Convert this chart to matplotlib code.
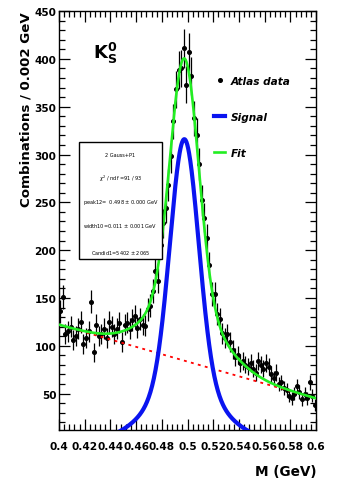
import matplotlib
matplotlib.use("Agg")
import matplotlib.pyplot as plt
from matplotlib.ticker import MultipleLocator, FuncFormatter
from matplotlib.lines import Line2D
from matplotlib.patches import Rectangle
import numpy as np

# histogram: 100 bins of 0.002 GeV between 0.4 and 0.6
bin_lo: float = 0.4
bin_width: float = 0.002
counts: list[int] = [
    136, 151, 112, 115, 120, 106, 110, 118, 125, 102,
    108, 115, 146, 93, 122, 110, 112, 118, 108, 125,
    120, 112, 118, 124, 104, 122, 124, 118, 127, 131,
    119, 128, 122, 121, 138, 142, 157, 178, 168, 205,
    228, 244, 268, 298, 335, 368, 388, 390, 411, 373,
    407, 382, 338, 320, 290, 252, 234, 213, 184, 154,
    154, 133, 128, 113, 108, 112, 104, 96, 88, 90,
    82, 84, 80, 78, 82, 76, 72, 84, 80, 76,
    82, 78, 70, 66, 72, 60, 62, 56, 54, 48,
    45, 50, 58, 52, 44, 50, 45, 62, 48, 38,
]

# fit parameters: 2 Gauss + P1
mass: float = 0.4975
amp_narrow: float = 256.0
sigma_narrow: float = 0.011
amp_wide: float = 60.0
sigma_wide: float = 0.027
bg_at_lo: float = 122.0
bg_slope: float = -385.0

stats_lines: list[str] = [
    "2 Gauss+P1",
    r"$\chi^2$ / ndf =91 / 93",
    "peak12=  0.498 $\\pm$ 0.000 GeV",
    "width10=0.011 $\\pm$ 0.001 GeV",
    "Candid1=5402 $\\pm$ 2065",
]


def background(x: np.ndarray) -> np.ndarray:
    return bg_at_lo + bg_slope * (x - bin_lo)


def signal(x: np.ndarray) -> np.ndarray:
    narrow = amp_narrow * np.exp(-0.5 * ((x - mass) / sigma_narrow) ** 2)
    wide = amp_wide * np.exp(-0.5 * ((x - mass) / sigma_wide) ** 2)
    return narrow + wide


def main() -> None:
    y = np.array(counts, dtype=float)
    x = bin_lo + bin_width * (np.arange(len(y)) + 0.5)
    xf = np.linspace(0.4, 0.6, 600)

    fig = plt.figure(figsize=(3.37, 4.81), dpi=100)
    ax = fig.add_axes([0.175, 0.104, 0.763, 0.871])

    ax.errorbar(x, y, yerr=np.sqrt(y), xerr=bin_width / 2, fmt="o", color="black",
                ms=2.6, elinewidth=0.9, capsize=0, zorder=2)
    ax.plot(xf, background(xf), color="red", lw=1.3, ls=(0, (1.6, 2.4)), zorder=3)
    ax.plot(xf, signal(xf), color="#0a14f0", lw=3.0, zorder=3)
    ax.plot(xf, signal(xf) + background(xf), color="#22ee22", lw=1.9, zorder=4)

    ax.set_xlim(0.4, 0.6)
    ax.set_ylim(12, 450)
    ax.xaxis.set_major_locator(MultipleLocator(0.02))
    ax.xaxis.set_minor_locator(MultipleLocator(0.004))
    ax.yaxis.set_major_locator(MultipleLocator(50))
    ax.yaxis.set_minor_locator(MultipleLocator(10))
    ax.xaxis.set_major_formatter(FuncFormatter(lambda v, p: f"{v:g}"))
    ax.tick_params(which="both", direction="in", top=True, right=True,
                   labelsize=7.6, width=0.9)
    ax.tick_params(which="major", length=8)
    ax.tick_params(which="minor", length=4)
    for lab in ax.get_xticklabels() + ax.get_yticklabels():
        lab.set_fontweight("bold")
    ax.tick_params(axis="x", pad=8)
    ax.tick_params(axis="y", pad=2)
    for s in ax.spines.values():
        s.set_linewidth(1.0)

    ax.set_ylabel("Combinations / 0.002 GeV", fontsize=9.6, fontweight="bold",
                  loc="top", labelpad=1)
    ax.set_xlabel("M (GeV)", fontsize=9.8, fontweight="bold", loc="right",
                  labelpad=9)

    ax.text(0.18, 0.9, r"$\mathbf{K^0_S}$", transform=ax.transAxes,
            fontsize=13, ha="center", va="center")

    # legend
    handles = [
        Line2D([], [], color="black", marker="o", ms=2.6, ls="none"),
        Line2D([], [], color="#0a14f0", lw=3.0),
        Line2D([], [], color="#22ee22", lw=1.9),
    ]
    ax.legend(handles, ["Atlas data", "Signal", "Fit"], loc="upper left",
              bbox_to_anchor=(0.565, 0.868), frameon=False, handlelength=1.1,
              handletextpad=0.5, labelspacing=2.45,
              prop={"size": 7.6, "weight": "bold", "style": "italic"})

    # stats box
    ax.add_patch(Rectangle((0.078, 0.408), 0.322, 0.279, transform=ax.transAxes,
                           fill=True, facecolor="white", edgecolor="black",
                           lw=1.0, zorder=5))
    for k, line in enumerate(stats_lines):
        ax.text(0.239, 0.658 - k * 0.056 - (0.008 if k == 4 else 0), line,
                transform=ax.transAxes, fontsize=3.6, ha="center", va="center",
                zorder=6)

    fig.savefig("out.png", dpi=100)


if __name__ == "__main__":
    main()
